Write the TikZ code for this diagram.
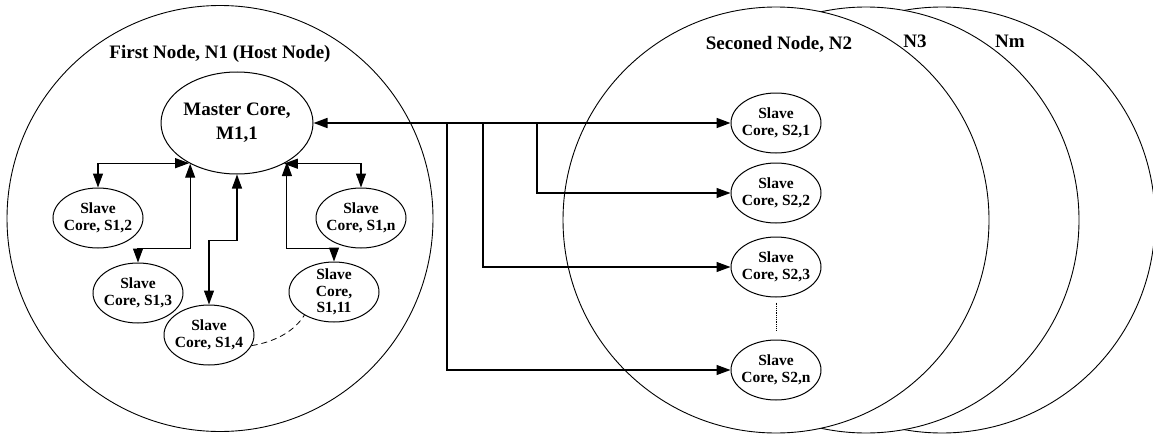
\documentclass[tikz,border=0pt]{standalone}
\usepackage{fontspec}
\setmainfont{Liberation Serif}
\usetikzlibrary{shapes.geometric,arrows.meta}

\tikzset{
  machine/.style={circle, draw, fill=white, line width=0.9pt, inner sep=0pt, minimum size=426pt},
  title/.style={anchor=base, font=\fontsize{19}{22}\selectfont\bfseries},
  master/.style={ellipse, draw, line width=1pt, inner sep=0pt, minimum width=152pt, minimum height=102pt,
    align=center, font=\fontsize{19}{24}\selectfont\bfseries},
  slave/.style={ellipse, draw, line width=1pt, inner xsep=-4pt, inner ysep=0pt, minimum width=90pt, minimum height=60pt,
    align=center, font=\fontsize{15.5}{17}\selectfont\bfseries},
  tri/.tip={Triangle[length=14pt,width=10pt]},
  both/.style={line width=1.1pt, tri-tri},
  onto/.style={line width=1.1pt, -tri},
  bus/.style={line width=1.6pt, tri-tri},
}

\begin{document}
\begin{tikzpicture}[x=1pt, y=1pt]
\useasboundingbox (0,0) rectangle (1153,-436);

% compute nodes, back to front
\node[machine] (nm) at (942,-220) {};
\node[machine] (n3) at (866,-220) {};
\node[machine] (n2) at (776,-220) {};
\node[machine] (n1) at (220,-218.5) {};

% node titles
\node[title] (t1) at (220,-59) {First Node, N1 (Host Node)};
\node[title] (t2) at (779,-50) {Seconed Node, N2};
\node[title] (t3) at (915,-48) {N3};
\node[title] (tm) at (1010,-48) {Nm};

% cores of the host node
\node[master] (m11) at (237,-123) {Master Core,\\M1,1};
\node[slave] (s12) at (98,-218) {Slave\\Core, S1,2};
\node[slave] (s13) at (138,-293) {Slave\\Core, S1,3};
\node[slave] (s14) at (209,-335) {Slave\\Core, S1,4};
\node[slave, inner ysep=-2.5pt, font=\fontsize{15.5}{16.5}\selectfont\bfseries] (s111) at (334,-292) {Slave\\Core,\\S1,11};
\node[slave] (s1n) at (361,-218) {Slave\\Core, S1,n};

% cores of the second node
\node[slave] (s21) at (776,-123) {Slave\\Core, S2,1};
\node[slave] (s22) at (776,-193) {Slave\\Core, S2,2};
\node[slave] (s23) at (776,-267) {Slave\\Core, S2,3};
\node[slave] (s2n) at (776,-370) {Slave\\Core, S2,n};

% links inside the host node
\draw[both] (s12.north) |- (m11.220);
\draw[both] (s13.north) -- ++(0,14) -| (m11.221.4);
\draw[both] (s14.north) -- ++(0,64) -| (m11.south);
\draw[both] (s111.north) -- ++(0,13) -| (m11.322.5);
\draw[both] (s1n.north) |- (m11.319.6);
\draw[dash pattern=on 6pt off 4pt, line width=0.8pt]
  (s14.-14) .. controls +(24,4) and +(-10,-16) .. (s111.218);

% bus from the master core to the second node
\coordinate (b1) at (537,-123);
\coordinate (b2) at (483,-123);
\coordinate (b3) at (447,-123);
\draw[bus] (m11.east) -- (s21.west);
\draw[onto] (b1) |- (s22.west);
\draw[onto] (b2) |- (s23.west);
\draw[onto] (b3) |- (s2n.west);
\draw[densely dotted, line width=0.8pt] ([yshift=-5pt]s23.south) -- ([yshift=9pt]s2n.north);
\end{tikzpicture}
\end{document}
